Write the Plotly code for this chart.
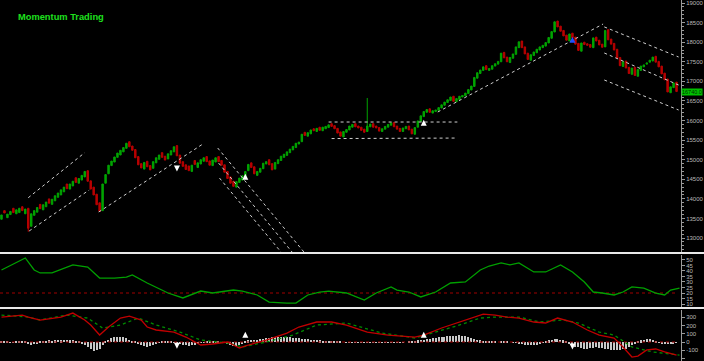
import plotly.graph_objects as go

# ---------------- data ----------------
opens = [
    13480, 13700, 13520, 13600, 13760, 13620, 13650, 13800, 13620, 13760,
    13300, 13580, 13660, 13860, 13720, 13800, 14000, 13860, 13950, 14040,
    14100, 14180, 14380, 14250, 14330, 14540, 14400, 14480, 14560, 14720,
    14460, 14300, 14120, 13900, 13700, 14400, 14640, 14850, 14940, 15060,
    15120, 15200, 15290, 15460, 15350, 15260, 15080, 14900, 14760, 14960,
    14850, 14780, 14920, 15010, 15180, 15090, 15020, 15120, 15200, 15360,
    15120, 14950, 14870, 14840, 14700, 14980, 14800, 14890, 14960, 15080,
    14970, 14850, 14940, 15080, 14980, 14870, 14700, 14560, 14450, 14300,
    14420, 14480, 14560, 14720, 14920, 14820, 14600, 14680, 14770, 14890,
    15000, 14900, 14760, 14900, 14980, 15060, 15110, 15180, 15250, 15310,
    15400, 15460, 15700, 15600, 15660, 15790, 15720, 15830, 15740, 15790,
    15820, 15920, 15870, 15800, 15710, 15580, 15700, 15760, 15830, 15920,
    15860, 15830, 15780, 15720, 15840, 15920, 15860, 15820, 15720, 15780,
    15830, 15880, 15950, 15860, 15800, 15720, 15790, 15860, 15780, 15650,
    15830, 15980, 16100, 16210, 16300, 16190, 16230, 16260, 16320, 16390,
    16460, 16510, 16620, 16480, 16540, 16600, 16630, 16690, 16780, 16870,
    17080, 17200, 17280, 17400, 17280, 17310, 17390, 17440, 17500, 17740,
    17620, 17480, 17590, 17690, 17860, 18030, 17880, 17720, 17540, 17660,
    17730, 17800, 17860, 17900, 17980, 18100, 18260, 18540, 18410, 18300,
    18180, 18030, 18230, 18130, 17970, 17770, 18000, 17960, 17940, 17860,
    18130, 18050, 17950, 17880, 18320, 18080, 17970, 17820, 17610, 17380,
    17520, 17360, 17180, 17360, 17130, 17280, 17370, 17440, 17490, 17520,
    17640, 17510, 17390, 17210, 17060, 16710, 16840, 16980,
]
closes = [
    13590, 13640, 13610, 13680, 13650, 13720, 13760, 13700, 13740, 13250,
    13620, 13700, 13780, 13750, 13850, 13920, 13890, 13990, 14080, 14150,
    14230, 14300, 14260, 14380, 14450, 14420, 14520, 14600, 14700, 14450,
    14250, 14100, 13850, 13680, 14380, 14620, 14860, 14965, 15070, 15170,
    15240, 15310, 15420, 15330, 15240, 15050, 14870, 14790, 14930, 14820,
    14740, 14950, 15050, 15120, 15060, 14990, 15150, 15230, 15330, 15100,
    14910, 14830, 14750, 14720, 14860, 14880, 14920, 15000, 15050, 14950,
    14860, 14990, 15050, 14950, 14860, 14680, 14520, 14400, 14320, 14440,
    14530, 14590, 14700, 14880, 14800, 14640, 14700, 14780, 14910, 14950,
    14870, 14740, 14930, 15000, 15090, 15140, 15200, 15270, 15340, 15420,
    15450, 15650, 15620, 15690, 15760, 15740, 15800, 15750, 15830, 15850,
    15890, 15850, 15790, 15680, 15600, 15720, 15770, 15860, 15900, 15840,
    15810, 15750, 15700, 15860, 15910, 15830, 15810, 15730, 15790, 15850,
    15900, 15940, 15840, 15780, 15720, 15810, 15850, 15760, 15660, 15820,
    15990, 16120, 16230, 16280, 16210, 16250, 16270, 16330, 16400, 16470,
    16530, 16600, 16490, 16560, 16620, 16640, 16700, 16790, 16880, 17100,
    17220, 17290, 17370, 17300, 17330, 17400, 17450, 17510, 17720, 17600,
    17500, 17610, 17700, 17880, 18010, 17860, 17700, 17560, 17680, 17750,
    17820, 17880, 17920, 17990, 18120, 18270, 18520, 18390, 18280, 18160,
    18050, 18210, 18110, 17950, 17790, 17980, 17940, 17920, 17870, 18110,
    18030, 17930, 17870, 18300, 18060, 17950, 17800, 17590, 17400, 17500,
    17340, 17200, 17340, 17150, 17300, 17390, 17420, 17470, 17540, 17620,
    17490, 17370, 17190, 17040, 16730, 16860, 16960, 16740,
]
high_spikes = {123: 16575}
low_spikes = {9: 13160}

# ADX-style line: (bar index, value)
adx_idx = [0, 8, 11, 13, 17, 24, 29, 33, 38, 42, 44, 49, 56, 61, 67, 71, 78, 81, 86, 90,
           96, 99, 103, 107, 110, 116, 122, 126, 131, 133, 137, 141, 146, 151, 156, 161,
           164, 168, 171, 174, 179, 183, 188, 192, 196, 199, 202, 206, 209, 212, 216,
           220, 223, 225, 228]
adx_val = [40.9, 51.8, 40.9, 38.2, 38.2, 45.5, 43.6, 33.6, 33.6, 34.5, 36.4, 29.1, 20.0,
           15.5, 21.8, 20.0, 22.7, 21.8, 18.2, 11.8, 10.9, 10.9, 18.2, 20.9, 21.8, 20.0,
           13.6, 20.0, 25.5, 22.7, 20.9, 16.4, 20.9, 29.1, 30.0, 40.9, 44.5, 47.3, 45.5,
           47.3, 39.1, 39.1, 45.5, 39.1, 30.0, 20.9, 20.0, 18.2, 20.9, 25.5, 24.5, 20.0,
           18.2, 22.7, 24.5]
adx_level = 20

macd_idx = [0, 7, 9, 13, 20, 24, 28, 30, 33, 36, 40, 43, 47, 49, 52, 58, 62, 67, 71, 76,
            80, 83, 89, 96, 100, 106, 111, 116, 123, 130, 139, 142, 148, 153, 158, 162,
            166, 170, 174, 179, 183, 187, 192, 197, 201, 206, 209, 212, 214, 217, 220,
            223, 227]
macd_val = [301, 325, 301, 265, 301, 349, 265, 205, 84, 181, 289, 313, 265, 181, 145, 120,
            60, -36, -24, 0, -72, -36, 24, 108, 181, 241, 241, 205, 120, 84, 60, 84, 169,
            229, 289, 337, 325, 301, 289, 241, 229, 289, 241, 145, 84, 48, -60, -181,
            -169, -96, -84, -120, -157]

signal_idx = [0, 9, 13, 22, 29, 34, 40, 46, 52, 60, 67, 76, 81, 89, 98, 106, 116, 128,
              139, 146, 153, 161, 166, 174, 181, 189, 194, 201, 206, 212, 219, 228]
signal_val = [325, 301, 265, 325, 289, 169, 205, 289, 205, 120, 24, -12, -60, 0, 84, 205,
              229, 108, 48, 120, 193, 289, 301, 301, 241, 265, 229, 120, 84, -60, -120,
              -157]

hist = [
    10, 12, 8, -10, -12, 5, 8, 10, 12,
    -20, -30, -25, -15,
    10, 15, 18, 20, 15, 22, 25, 20,
    25, 30, 24, 20, 15, 5,
    -15, -35, -60, -85, -105, -100, -80, -40,
    10, 30, 45, 55, 60, 62, 55, 45, 30, 15, 5,
    -15, -35, -50, -55, -45, -30, -15,
    -5, 5, 10, 8, 5, -5, -10,
    -20, -30, -40, -45, -40, -30, -20,
    -10, -5, 5, 10, 12, 10, 5, -5, -10,
    -25, -35, -45, -50, -40, -25,
    15, 20, 25, 30, 30, 35, 40, 45, 50, 55, 60, 62, 65, 60, 58, 55, 50, 48, 45, 40,
    38, 35, 30, 28, 25, 20, 18, 15, 12,
    10, 8, 5, 5, 0, -5, -8, -10, -8, -5, -5, -8, -10, -10, -8, -5, -5, -5, -8, -8,
    -10, -8, -5, -5, -3, 0, 5, 10, 15, 20,
    25, 30, 35, 40, 45, 50, 55, 60, 65, 70, 72, 75, 78, 80, 75, 70, 60, 50, 40, 30,
    20, 15, 10,
    8, 5, 5, 0, 5, 8, 5, 0, -5, -10, -15, -20,
    -30, -35, -40, -35, -30, -20, -10,
    10, 20, 30, 35, 35, 30, 20, 10,
    -20, -40, -55, -65, -75, -80, -80, -75, -70, -65,
    -70, -75, -80, -90, -95, -100, -100, -95, -90, -80, -60, -40, -20,
    5, 20, 30, 36, 35, 25, 10,
    -5, -15, -20, -25, -20, -15, -10,
]

# trend lines: ((idx0, price0), (idx1, price1))
trend_lines = [
    ((9.0, 14030), (28.0, 15180)),
    ((9.3, 13180), (29.5, 14226)),
    ((32.7, 13665), (67.7, 15400)),
    ((72.7, 15299), (101.7, 12644)),
    ((73.0, 14915), (97.7, 12644)),
    ((73.3, 14532), (94.0, 12644)),
    ((110.0, 15962), (153.3, 15962)),
    ((111.0, 15540), (153.3, 15553)),
    ((146.7, 16218), (202.3, 18464)),
    ((202.7, 18390), (227.7, 17622)),
    ((202.7, 17724), (227.7, 16907)),
    ((202.7, 17035), (227.7, 16269)),
]

up_arrows_price = [(82, 14640), (142, 16020)]
down_arrows_price = [(59, 14700)]
blue_arrow_price = [(192, 18140)]
up_arrows_macd = [(82, 125), (142, 125)]
down_arrows_macd = [(59, -80), (192, -90)]

title_text = "Momentum Trading"

# ---------------- build ----------------
n = len(closes)
idx = list(range(n))
highs = [max(o, c) for o, c in zip(opens, closes)]
lows = [min(o, c) for o, c in zip(opens, closes)]
for k, v in high_spikes.items():
    highs[k] = max(highs[k], v)
for k, v in low_spikes.items():
    lows[k] = min(lows[k], v)

GREEN = "#00a400"
RED = "#b80000"
AXIS_GREY = "#b8b8b8"

fig = go.Figure()

fig.add_trace(go.Candlestick(
    x=idx, open=opens, high=highs, low=lows, close=closes,
    increasing=dict(line=dict(color=GREEN, width=1), fillcolor=GREEN),
    decreasing=dict(line=dict(color=RED, width=1), fillcolor=RED),
    whiskerwidth=0, xaxis="x", yaxis="y", showlegend=False, hoverinfo="skip",
))

for (x0, y0), (x1, y1) in trend_lines:
    fig.add_trace(go.Scatter(
        x=[x0, x1], y=[y0, y1], mode="lines",
        line=dict(color="#cfcfcf", width=1, dash="dot"),
        xaxis="x", yaxis="y", showlegend=False, hoverinfo="skip",
    ))

def arrows(pts, sym, color, xa, ya, size=6):
    return go.Scatter(
        x=[p[0] for p in pts], y=[p[1] for p in pts], mode="markers",
        marker=dict(symbol=sym, size=size, color=color, line=dict(width=0)),
        xaxis=xa, yaxis=ya, showlegend=False, hoverinfo="skip",
    )

fig.add_trace(arrows(up_arrows_price, "arrow-up", "white", "x", "y"))
fig.add_trace(arrows(down_arrows_price, "arrow-down", "white", "x", "y"))
fig.add_trace(arrows(blue_arrow_price, "arrow-up", "#2050ff", "x", "y"))

# ADX panel
fig.add_trace(go.Scatter(
    x=[-0.5, n - 0.5], y=[adx_level, adx_level], mode="lines",
    line=dict(color="#a00000", width=1, dash="dot"),
    xaxis="x2", yaxis="y2", showlegend=False, hoverinfo="skip",
))
fig.add_trace(go.Scatter(
    x=adx_idx, y=adx_val, mode="lines", line=dict(color="#00a000", width=1.3),
    xaxis="x2", yaxis="y2", showlegend=False, hoverinfo="skip",
))

# MACD panel
fig.add_trace(go.Bar(
    x=idx, y=hist, width=0.4, marker=dict(color="#c8c8c8", line=dict(width=0)),
    xaxis="x3", yaxis="y3", showlegend=False, hoverinfo="skip",
))
fig.add_trace(go.Scatter(
    x=[-0.5, n - 0.5], y=[0, 0], mode="lines",
    line=dict(color="#a00000", width=1, dash="dot"),
    xaxis="x3", yaxis="y3", showlegend=False, hoverinfo="skip",
))
fig.add_trace(go.Scatter(
    x=signal_idx, y=signal_val, mode="lines",
    line=dict(color="#008a00", width=1.3, dash="dot"),
    xaxis="x3", yaxis="y3", showlegend=False, hoverinfo="skip",
))
fig.add_trace(go.Scatter(
    x=macd_idx, y=macd_val, mode="lines", line=dict(color="#c00000", width=1.3),
    xaxis="x3", yaxis="y3", showlegend=False, hoverinfo="skip",
))
fig.add_trace(arrows(up_arrows_macd, "arrow-up", "white", "x3", "y3"))
fig.add_trace(arrows(down_arrows_macd, "arrow-down", "white", "x3", "y3"))

H = 361.0
xr = [-0.5, n + 0.5]
xcommon = dict(range=xr, showgrid=False, zeroline=False, showticklabels=False,
               showline=False, ticks="", rangeslider=dict(visible=False), fixedrange=True)
tickfont = dict(family="Liberation Sans, Arial", size=6, color=AXIS_GREY)
ycommon = dict(side="right", showgrid=False, zeroline=False, showline=True,
               linecolor="#9a9a9a", linewidth=1, ticks="outside", ticklen=3,
               tickcolor="#9a9a9a", tickfont=tickfont, fixedrange=True)

fig.update_layout(
    width=704, height=361,
    margin=dict(l=0, r=18, t=0, b=0),
    paper_bgcolor="black", plot_bgcolor="black",
    showlegend=False,
    bargap=0,
    xaxis=dict(domain=[0, 1], anchor="y", **xcommon),
    xaxis2=dict(domain=[0, 1], anchor="y2", matches="x", **xcommon),
    xaxis3=dict(domain=[0, 1], anchor="y3", matches="x", **xcommon),
    yaxis=dict(domain=[1 - 252 / H, 1], anchor="x", range=[12644, 19077],
               tickmode="array", tickvals=list(range(13000, 19001, 500)),
               ticktext=[str(v) for v in range(13000, 19001, 500)],
               minor=dict(dtick=100, ticks="outside", ticklen=2, tickcolor="#9a9a9a"),
               **ycommon),
    yaxis2=dict(domain=[1 - 307 / H, 1 - 255 / H], anchor="x2", range=[7.3, 54.5],
                tickmode="array", tickvals=list(range(10, 51, 5)),
                ticktext=[str(v) for v in range(10, 51, 5)], **ycommon),
    yaxis3=dict(domain=[0, 1 - 310 / H], anchor="x3", range=[-229, 386],
                tickmode="array", tickvals=list(range(-200, 301, 100)),
                ticktext=[str(v) for v in range(-200, 301, 100)], **ycommon),
)

# panel separators
for yy in (253, 308):
    fig.add_shape(type="line", xref="paper", yref="paper", x0=0, x1=1.05,
                  y0=1 - yy / H, y1=1 - yy / H, line=dict(color="#e8e8e8", width=2))

# title
fig.add_annotation(text="<b>" + title_text + "</b>", xref="paper", yref="paper",
                   x=16 / 686, y=1 - 17 / H, xanchor="left", yanchor="middle",
                   showarrow=False, font=dict(family="Liberation Sans, Arial", size=9.3,
                                               color="#1ee01e"))

# last price box
fig.add_annotation(text=f"{closes[-1]:.1f}", xref="paper", yref="y", x=1.0, y=closes[-1],
                   xanchor="left", yanchor="middle", showarrow=False,
                   bgcolor="#00c000", borderpad=0,
                   font=dict(family="Liberation Sans, Arial", size=5.5, color="#003000"))

fig.write_html("out.html")
